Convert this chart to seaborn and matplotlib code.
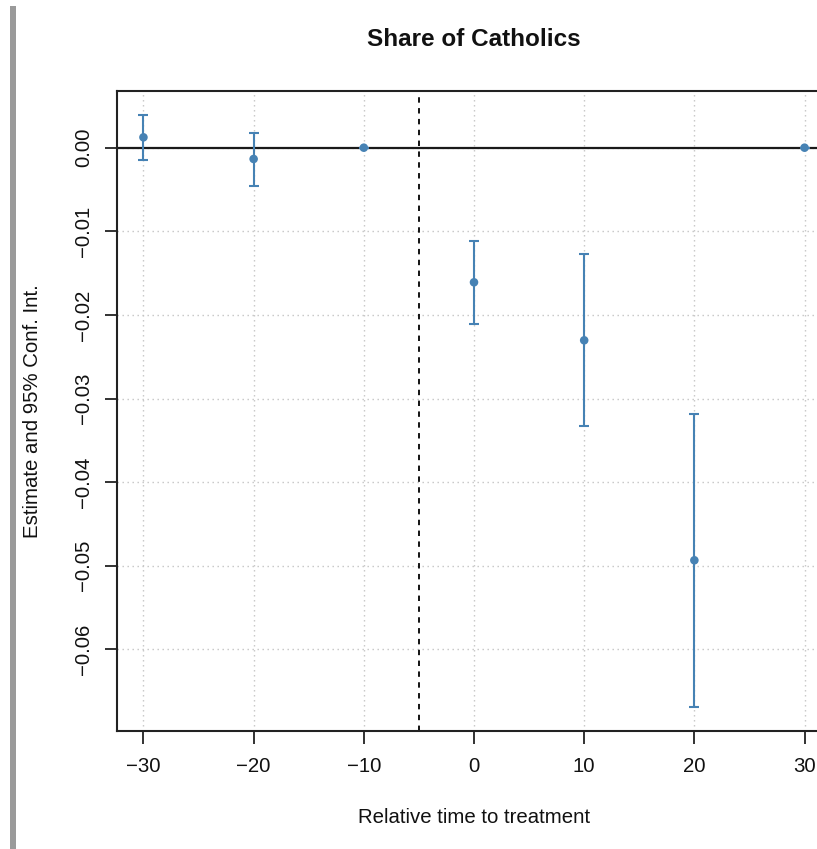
import matplotlib
matplotlib.use("Agg")
import matplotlib.pyplot as plt
import seaborn as sns
import pandas as pd
from matplotlib.patches import Rectangle

# Event-study estimates for the share of Catholics
rel_time = [-30, -20, -10, 0, 10, 20, 30]
estimate = [0.00124, -0.00135, 0.0, -0.0161, -0.02304, -0.04935, 0.0]
ci_low = [-0.00147, -0.00455, 0.0, -0.02105, -0.03325, -0.06687, 0.0]
ci_high = [0.0039, 0.0018, 0.0, -0.01116, -0.01275, -0.03182, 0.0]

x_ticks = [-30, -20, -10, 0, 10, 20, 30]
y_ticks = [0.0, -0.01, -0.02, -0.03, -0.04, -0.05, -0.06]
y_tick_labels = ["0.00", "\u22120.01", "\u22120.02", "\u22120.03", "\u22120.04", "\u22120.05", "\u22120.06"]
treatment_line = -5

df = pd.DataFrame({"time": rel_time, "est": estimate, "lo": ci_low, "hi": ci_high})

sns.set_theme(style="white")
plt.rcParams["font.family"] = ["Liberation Sans", "DejaVu Sans"]

W, H = 817, 849
fig = plt.figure(figsize=(W / 100, H / 100), dpi=100)
fig.patch.set_facecolor("white")

# axes box: left=117px, right=831px (extends past the right edge), top=91px, bottom=731px
ax = fig.add_axes([117 / W, (H - 731) / H, 714 / W, 640 / H])
ax.set_facecolor("white")

# grey margin bar on the left
fig.patches.append(Rectangle((10 / W, 0), 5.5 / W, (H - 6) / H, transform=fig.transFigure,
                             facecolor="#9a9a9a", edgecolor="none", zorder=0))

# dotted grid
for xt in x_ticks:
    ax.axvline(xt, color="#c4c4c4", lw=1.0, ls=(0, (1, 2.6)), zorder=0)
for yt in y_ticks:
    ax.axhline(yt, color="#c4c4c4", lw=1.0, ls=(0, (1, 2.6)), zorder=0)

ax.axhline(0, color="#1a1a1a", lw=1.6, zorder=1)
ax.axvline(treatment_line, color="black", lw=1.3, ls=(0, (3, 3)), zorder=1)

color = "#4682B4"
ax.errorbar(df["time"], df["est"],
            yerr=[df["est"] - df["lo"], df["hi"] - df["est"]],
            fmt="none", ecolor=color, elinewidth=1.5, capsize=3.8, capthick=1.5, zorder=2)
sns.scatterplot(data=df, x="time", y="est", ax=ax, color=color, s=38,
                edgecolor="none", zorder=3, legend=False)

ax.set_xlim(-32.4, 32.4)
ax.set_ylim(-0.06977, 0.00678)
ax.set_xticks(x_ticks)
ax.set_xticklabels([("\u2212" + str(abs(v))) if v < 0 else str(v) for v in x_ticks])
ax.set_yticks(y_ticks)
ax.set_yticklabels(y_tick_labels, rotation=90, va="center")

ax.tick_params(axis="both", which="both", direction="out", length=9, width=1.3,
               color="#222222", labelsize=14.7, labelcolor="#111111", bottom=True, left=True)
ax.tick_params(axis="x", pad=10)
ax.tick_params(axis="y", pad=8)

for side in ["left", "top", "bottom", "right"]:
    ax.spines[side].set_visible(True)
    ax.spines[side].set_color("#222222")
    ax.spines[side].set_linewidth(1.5)

ax.set_xlabel("")
ax.set_ylabel("")

fig.text(474 / W, 1 - 46 / H, "Share of Catholics", ha="center", va="baseline",
         fontsize=17.5, fontweight="bold", color="#111111")
fig.text(474 / W, 1 - 823 / H, "Relative time to treatment", ha="center", va="baseline",
         fontsize=14.7, color="#111111")
fig.text(33 / W, 1 - 411 / H, "Estimate and 95% Conf. Int.", ha="center", va="center",
         rotation=90, fontsize=14.7, color="#111111")

fig.savefig("out.png", dpi=100, facecolor="white")
